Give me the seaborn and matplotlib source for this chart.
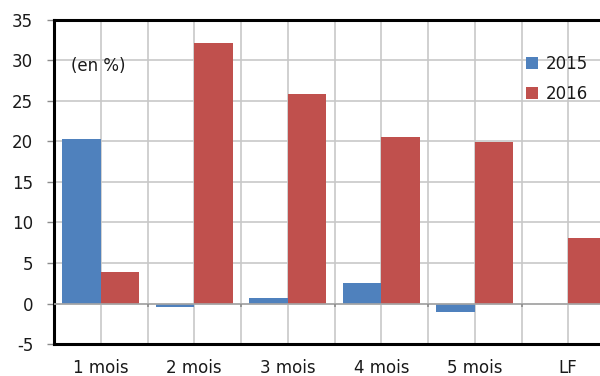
import matplotlib
matplotlib.use("Agg")
import matplotlib.pyplot as plt
import seaborn as sns
import pandas as pd

categories = ["1 mois", "2 mois", "3 mois", "4 mois", "5 mois", "LF"]
values_2015 = [20.3, -0.45, 0.7, 2.55, -1.05, 0.0]
values_2016 = [3.85, 32.2, 25.8, 20.6, 19.9, 8.1]
series = ["2015", "2016"]
colors = ["#4F81BD", "#C0504D"]
y_ticks = [-5, 0, 5, 10, 15, 20, 25, 30, 35]

df = pd.DataFrame({
    "maturite": categories * 2,
    "annee": [series[0]] * len(categories) + [series[1]] * len(categories),
    "valeur": values_2015 + values_2016,
})

sns.set_theme(style="white")
plt.rcParams["font.family"] = ["DejaVu Sans"]

FS = 12

fig = plt.figure(figsize=(6.0, 3.76), dpi=100)
ax = fig.add_axes([0.09, 0.085, 0.935, 0.862])

# light grid: horizontal at each tick, vertical at category centres and boundaries
for y in y_ticks:
    ax.axhline(y, color="#C8C8C8", lw=1.2, zorder=0)
for k in range(2 * len(categories) + 1):
    ax.axvline(-0.5 + 0.5 * k, color="#C8C8C8", lw=1.2, zorder=0)

sns.barplot(data=df, x="maturite", y="valeur", hue="annee",
            palette=colors, width=0.82, linewidth=0, saturation=1,
            ax=ax, zorder=2)

ax.axhline(0, color="#A6A6A6", lw=1.2, zorder=3)
ax.vlines([i + 0.5 for i in range(len(categories) - 1)], -0.45, 0,
          color="#8C8C8C", lw=1.2, zorder=3)

ax.set_xlim(-0.5, len(categories) - 0.5)
ax.set_ylim(-5, 35)
ax.set_yticks(y_ticks)
ax.set_yticklabels([str(v) for v in y_ticks])
ax.set_xlabel("")
ax.set_ylabel("")

for side in ["left", "bottom", "top", "right"]:
    ax.spines[side].set_visible(True)
    ax.spines[side].set_color("black")
    ax.spines[side].set_linewidth(2.2)

ax.tick_params(axis="y", which="major", length=5, width=1, color="#8C8C8C",
               labelsize=FS, labelcolor="#1A1A1A", pad=10, left=True)
ax.tick_params(axis="x", which="major", length=0, labelsize=FS,
               labelcolor="#1A1A1A", pad=11)

ax.text(0.03, 0.858, "(en %)", transform=ax.transAxes, fontsize=FS,
        color="#1A1A1A", va="center", ha="left")

leg = ax.legend(loc="upper left", bbox_to_anchor=(0.829, 0.912), frameon=False,
                fontsize=FS, handlelength=0.75, handleheight=0.75,
                handletextpad=0.45, labelspacing=0.72, borderaxespad=0)
for t in leg.get_texts():
    t.set_color("#1A1A1A")

fig.savefig("out.png", dpi=100)
